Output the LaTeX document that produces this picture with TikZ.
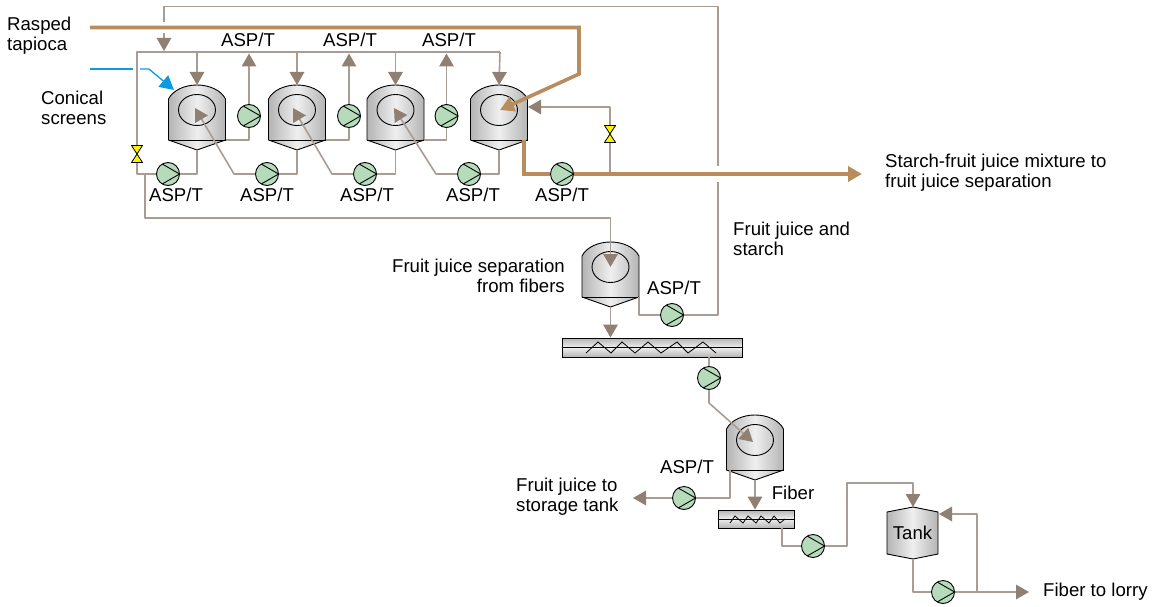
\documentclass[tikz,border=0pt]{standalone}
\usepackage{fontspec}
\setmainfont{Liberation Sans}
\usetikzlibrary{arrows.meta}
\definecolor{pipecol}{HTML}{A99D93}
\definecolor{tipcol}{HTML}{8F8073}
\definecolor{maincol}{HTML}{B98C5E}
\definecolor{bluecol}{HTML}{0A9BE0}
\definecolor{pumpcol}{HTML}{B5DBBB}
\definecolor{steelcol}{HTML}{B4B4B4}
\definecolor{steelmid}{HTML}{EFEFEF}
\tikzset{
    pipe/.style={draw=pipecol, line width=1.6pt, line join=round},
    tipped/.style={-{Triangle[length=13pt,width=14.5pt,color=tipcol]}},
    mainpipe/.style={draw=maincol, line width=3.6pt, line join=miter},
    maintip/.style={-{Triangle[length=14pt,width=15pt,color=maincol]}},
    bluepipe/.style={draw=bluecol, line width=1.3pt},
    steel/.style={draw=black, line width=0.9pt, left color=steelcol, right color=steelcol, middle color=steelmid},
    label/.style={font=\fontsize{18.6}{20}\selectfont, inner sep=0pt, align=left},
    pumpbox/.style={circle, draw=black, line width=0.9pt, fill=pumpcol, minimum size=23pt, inner sep=0pt,
        path picture={\draw[black, line width=0.9pt, shift={(path picture bounding box.center)}, rotate=#1]
            (-5.8,-10) -- (11.6,0) -- (-5.8,10);}},
    valvebox/.style={rectangle, minimum width=12pt, minimum height=18pt, inner sep=0pt,
        path picture={\draw[black, fill=yellow, line width=0.8pt, shift={(path picture bounding box.center)}]
            (-5.5,-8.5) -- (5.5,-8.5) -- (-5.5,8.5) -- (5.5,8.5) -- cycle;}},
    filterbox/.style={rectangle, draw=black, line width=0.9pt, inner sep=0pt,
        top color=steelcol, bottom color=steelcol, middle color=steelmid},
    screenpic/.pic={
        \draw[steel] (-28.5,55) -- (-28.5,14) .. controls (-24,5) and (-12,0) .. (0,0)
            .. controls (12,0) and (24,5) .. (28.5,14) -- (28.5,55) -- (0,65) -- cycle;
        \draw[black, line width=0.9pt] (-28.5,55) -- (28.5,55);
        \draw[black, line width=0.9pt] (0,25) ellipse (18.5pt and 15.5pt);
        \coordinate (-top) at (0,0);
        \coordinate (-tip) at (0,65);
        \coordinate (-lb) at (-25,55);
        \coordinate (-rb) at (28.5,55);
        \coordinate (-mid) at (0,25);
    }
}
\begin{document}
\begin{tikzpicture}[x=1pt, y=-1pt]
    \useasboundingbox (0,0) rectangle (1158,607);

    \pic (s1) at (197,85) {screenpic};
    \pic (s2) at (297,85) {screenpic};
    \pic (s3) at (395.5,85) {screenpic};
    \pic (s4) at (499,85) {screenpic};
    \pic (s5) at (610.5,242) {screenpic};
    \pic (s6) at (755,415) {screenpic};

    \node[pumpbox=180] (pl1) at (168,174) {};
    \node[pumpbox=180] (pl2) at (267,174) {};
    \node[pumpbox=180] (pl3) at (365,174) {};
    \node[pumpbox=180] (pl4) at (469,174) {};
    \node[pumpbox=0] (pout) at (562,174) {};
    \node[pumpbox=90] (pu1) at (249,116) {};
    \node[pumpbox=90] (pu2) at (349,116) {};
    \node[pumpbox=90] (pu3) at (446.5,116) {};
    \node[pumpbox=0] (psep) at (672,315) {};
    \node[pumpbox=-90] (pfil) at (709,378) {};
    \node[pumpbox=180] (pjuice) at (684,498) {};
    \node[pumpbox=0] (pfib) at (813,546) {};
    \node[pumpbox=0] (ptank) at (943,592) {};

    \node[valvebox] (vleft) at (137,154) {};
    \node[valvebox] (vright) at (610,134) {};

    \node[filterbox, minimum width=180pt, minimum height=19pt] (f1) at (652,347.5) {};
    \draw[black, line width=0.9pt] (f1.west) -- (f1.east);
    \draw[black, line width=0.8pt] (586,353) -- (598,342) -- (611,353) -- (622,342) -- (635,353) -- (648,342)
        -- (661,353) -- (677,342) -- (688,353) -- (703,342) -- (716,353);
    \node[filterbox, minimum width=76pt, minimum height=18pt] (f2) at (756,519) {};
    \draw[black, line width=0.9pt] (f2.west) -- (f2.east);
    \draw[black, line width=0.8pt] (730,523) -- (735,516) -- (743,523) -- (748,516) -- (756,523) -- (761,516)
        -- (769,523) -- (774,516) -- (780,523) -- (785,519);

    \draw[steel] (887,512) -- (913,507) -- (938,512) -- (938,554) -- (913,559) -- (887,554) -- cycle;
    \node[label] (tank) at (912.5,533) {Tank};

    \coordinate (tanktop) at (913,507);
    \coordinate (tankbot) at (913,559);
    \coordinate (tankside) at (939,514);
    \coordinate (topL) at (137,52);
    \coordinate (topR) at (500,52);
    \coordinate (lowL) at (137,174);
    \coordinate (lowB) at (145,174);
    \coordinate (lowC) at (145,218);
    \coordinate (d1) at (234,174);
    \coordinate (d2) at (332,174);
    \coordinate (d3) at (436,174);
    \coordinate (t1) at (195,108);
    \coordinate (t2) at (293,108);
    \coordinate (t3) at (394,108);
    \coordinate (recA) at (718,166);
    \coordinate (recB) at (718,182);
    \coordinate (recC) at (718,6.5);
    \coordinate (recD) at (164,22);
    \coordinate (recE) at (164,33);
    \coordinate (recF) at (164,51);
    \coordinate (feedS) at (90,27.5);
    \coordinate (feedA) at (579,27.5);
    \coordinate (feedB) at (579,74);
    \coordinate (feedT) at (500,110);
    \coordinate (outS) at (524,140);
    \coordinate (outJ) at (610,174);
    \coordinate (outT) at (862,174);
    \coordinate (s4side) at (528,107);
    \coordinate (blueS) at (90,69);
    \coordinate (blueA) at (133,69);
    \coordinate (blueB) at (140,69);
    \coordinate (blueC) at (149,69);
    \coordinate (blueT) at (174,90);
    \coordinate (bend) at (709,403);
    \coordinate (s6in) at (753,442);
    \coordinate (juiceT) at (633,498);
    \coordinate (fibA) at (782,528);
    \coordinate (fibB) at (847,483);
    \coordinate (branch) at (977,592);
    \coordinate (lorry) at (1029,592);

    \draw[pipe] (vleft) -- (topL) -- (topR);
    \draw[pipe, tipped] (topR) -- (s4-top);
    \draw[pipe, tipped] (s1-top |- topL) -- (s1-top);
    \draw[pipe, tipped] (s2-top |- topL) -- (s2-top);
    \draw[pipe, tipped] (s3-top |- topL) -- (s3-top);
    \draw[pipe] (vleft) -- (lowL) -- (pl1);
    \draw[pipe] (pl1) -| (s1-tip);
    \draw[pipe] (pl2) -| (s2-tip);
    \draw[pipe] (pl3) -| (s3-tip);
    \draw[pipe] (pl4) -| (s4-tip);
    \draw[pipe, tipped] (pl2) -- (d1) -- (t1);
    \draw[pipe, tipped] (pl3) -- (d2) -- (t2);
    \draw[pipe, tipped] (pl4) -- (d3) -- (t3);
    \draw[pipe] (s1-rb) -| (pu1);
    \draw[pipe] (s2-rb) -| (pu2);
    \draw[pipe] (s3-rb) -| (pu3);
    \draw[pipe, tipped, shorten >=1.5pt] (pu1) -- (pu1 |- topL);
    \draw[pipe, tipped, shorten >=1.5pt] (pu2) -- (pu2 |- topL);
    \draw[pipe, tipped, shorten >=1.5pt] (pu3) -- (pu3 |- topL);

    \draw[pipe, tipped] (lowB) -- (lowC) -| (s5-mid);

    \draw[pipe] (recA) -- (recC) -| (recD);
    \draw[pipe, tipped] (recE) -- (recF);
    \draw[pipe] (recB) |- (psep);
    \draw[pipe] (psep) -| (s5-rb);
    \draw[pipe, tipped] (s5-tip) -- (s5-tip |- f1.north);
    \draw[pipe] (f1.south -| pfil) -- (pfil);
    \draw[pipe, tipped] (pfil) -- (bend) -- (s6in);

    \draw[pipe] (s6-lb) |- (pjuice);
    \draw[pipe, tipped] (pjuice) -- (juiceT);
    \draw[pipe, tipped] (s6-tip) -- (s6-tip |- f2.north);
    \draw[pipe] (fibA) |- (pfib);
    \draw[pipe, tipped] (pfib) -| (fibB) -| (tanktop);
    \draw[pipe] (tankbot) |- (ptank);
    \draw[pipe, tipped] (ptank) -- (lorry);
    \draw[pipe, tipped] (branch) |- (tankside);

    \draw[pipe] (outJ) -- (vright);
    \draw[pipe, tipped] (vright) |- (s4side);

    \draw[bluepipe] (blueS) -- (blueA);
    \draw[bluepipe, -{Triangle[length=14pt,width=15pt,color=bluecol]}] (blueB) -- (blueC) -- (blueT);

    \draw[mainpipe, maintip] (feedS) -- (feedA) -- (feedB) -- (feedT);
    \draw[mainpipe] (outS) |- (pout);
    \draw[mainpipe, maintip] (pout) -- (outT);

    \node[label] (aspa) at (248,39.5) {ASP/T};
    \node[label] (aspb) at (350,39.5) {ASP/T};
    \node[label] (aspc) at (449,39.5) {ASP/T};
    \node[label] (aspd) at (176,195) {ASP/T};
    \node[label] (aspe) at (267,195) {ASP/T};
    \node[label] (aspf) at (367,195) {ASP/T};
    \node[label] (aspg) at (473,195) {ASP/T};
    \node[label] (asph) at (562,195) {ASP/T};
    \node[label] (aspi) at (674,288) {ASP/T};
    \node[label] (aspj) at (687,467) {ASP/T};
    \node[label, anchor=west] (rasped) at (7,35.5) {Rasped\\tapioca};
    \node[label, anchor=west] (conical) at (41,108) {Conical\\screens};
    \node[label, anchor=east, align=right] (sepl) at (565,276) {Fruit juice separation\\from fibers};
    \node[label, anchor=west] (juicel) at (733,239) {Fruit juice and\\starch};
    \node[label, anchor=west] (mixl) at (885,173) {Starch-fruit juice mixture to\\fruit juice separation};
    \node[label, anchor=west] (storel) at (516,497) {Fruit juice to\\storage tank};
    \node[label] (fiberl) at (793,493) {Fiber};
    \node[label, anchor=west] (lorryl) at (1043,592) {Fiber to lorry};
\end{tikzpicture}
\end{document}
